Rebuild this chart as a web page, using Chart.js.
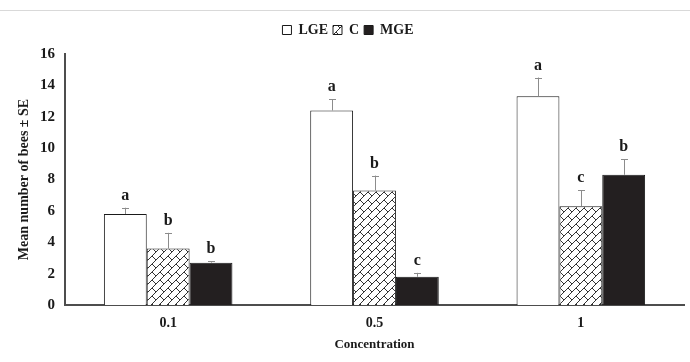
<!DOCTYPE html>
<html>
<head>
<meta charset="utf-8">
<script src="https://cdn.jsdelivr.net/npm/chart.js@4.4.1/dist/chart.umd.min.js"></script>
<style>
  html, body { margin: 0; padding: 0; background: #fff; }
</style>
</head>
<body>
<canvas id="chart" width="690" height="362"></canvas>
<script>
// data
const concentrations = ['0.1', '0.5', '1'];
const lgeMeans = [5.8, 12.4, 13.3];
const lgeSE = [0.4, 0.7, 1.2];
const lgeLetters = ['a', 'a', 'a'];
const cMeans = [3.6, 7.3, 6.3];
const cSE = [1.0, 0.95, 1.0];
const cLetters = ['b', 'b', 'c'];
const mgeMeans = [2.7, 1.8, 8.3];
const mgeSE = [0.1, 0.25, 1.0];
const mgeLetters = ['b', 'c', 'b'];
const yTicks = [0, 2, 4, 6, 8, 10, 12, 14, 16];

const serif = "'Liberation Serif', 'Times New Roman', serif";

// brick-ish diagonal hatch for the C series
function makeHatch() {
  const c = document.createElement('canvas');
  c.width = 8; c.height = 8;
  const g = c.getContext('2d');
  g.fillStyle = '#fff';
  g.fillRect(0, 0, 8, 8);
  g.strokeStyle = '#333';
  g.lineWidth = 1;
  g.beginPath();
  g.moveTo(0, 8); g.lineTo(8, 0);
  g.moveTo(0, 0); g.lineTo(4, 4);
  g.stroke();
  return g.createPattern(c, 'repeat');
}
const hatch = makeHatch();

const seMap = [lgeSE, cSE, mgeSE];
const letterMap = [lgeLetters, cLetters, mgeLetters];

// error bars (upper only) and significance letters
const errorBars = {
  id: 'errorBars',
  afterDatasetsDraw(chart) {
    const ctx = chart.ctx;
    const y = chart.scales.y;
    chart.data.datasets.forEach((ds, di) => {
      const meta = chart.getDatasetMeta(di);
      meta.data.forEach((bar, i) => {
        const top = y.getPixelForValue(ds.data[i] + seMap[di][i]);
        ctx.save();
        ctx.strokeStyle = '#8c8c8c';
        ctx.lineWidth = 1;
        ctx.beginPath();
        ctx.moveTo(Math.round(bar.x) + 0.5, bar.y);
        ctx.lineTo(Math.round(bar.x) + 0.5, top);
        ctx.moveTo(Math.round(bar.x) - 3, Math.round(top) + 0.5);
        ctx.lineTo(Math.round(bar.x) + 4, Math.round(top) + 0.5);
        ctx.stroke();
        ctx.fillStyle = '#1a1a1a';
        ctx.font = 'bold 16px ' + serif;
        ctx.textAlign = 'center';
        ctx.textBaseline = 'alphabetic';
        ctx.fillText(letterMap[di][i], bar.x, top - 8);
        ctx.restore();
      });
    });
  }
};

// thin grey rule across the top
const topRule = {
  id: 'topRule',
  beforeDraw(chart) {
    const ctx = chart.ctx;
    ctx.save();
    ctx.strokeStyle = '#d9d9d9';
    ctx.lineWidth = 1;
    ctx.beginPath();
    ctx.moveTo(0, 10.5);
    ctx.lineTo(chart.width, 10.5);
    ctx.stroke();
    ctx.restore();
  }
};

const legendGap = {
  id: 'legendGap',
  beforeInit(chart) {
    const fit = chart.legend.fit;
    chart.legend.fit = function () {
      fit.bind(chart.legend)();
      this.height += 7;
    };
  }
};

new Chart(document.getElementById('chart'), {
  type: 'bar',
  data: {
    labels: concentrations,
    datasets: [
      { label: 'LGE', data: lgeMeans, backgroundColor: '#ffffff', borderColor: '#1a1a1a', borderWidth: 1 },
      { label: 'C', data: cMeans, backgroundColor: hatch, borderColor: '#1a1a1a', borderWidth: 1 },
      { label: 'MGE', data: mgeMeans, backgroundColor: '#231f20', borderColor: '#1a1a1a', borderWidth: 1 }
    ]
  },
  options: {
    responsive: false,
    animation: false,
    layout: { padding: { left: 12, right: 6, top: 18, bottom: 4 } },
    datasets: {
      bar: { categoryPercentage: 0.623, barPercentage: 1.0 }
    },
    plugins: {
      legend: {
        position: 'top',
        labels: {
          boxWidth: 9,
          boxHeight: 9,
          padding: 5,
          color: '#1a1a1a',
          font: { family: serif, size: 14, weight: 'bold' }
        }
      },
      tooltip: { enabled: false }
    },
    scales: {
      x: {
        grid: { display: false, drawTicks: false },
        border: { color: '#4d4d4d', width: 2 },
        ticks: { color: '#1a1a1a', padding: 10, font: { family: serif, size: 14, weight: 'bold' } },
        title: {
          display: true,
          text: 'Concentration',
          color: '#1a1a1a',
          padding: { top: 0, bottom: 6 },
          font: { family: serif, size: 13, weight: 'bold' }
        },
        afterFit(s) { s.height = 53; }
      },
      y: {
        min: 0,
        max: 16,
        afterBuildTicks(s) { s.ticks = yTicks.map(v => ({ value: v })); },
        grid: { display: false, drawTicks: false },
        border: { color: '#4d4d4d', width: 2 },
        ticks: { color: '#1a1a1a', padding: 10, font: { family: serif, size: 15, weight: 'bold' } },
        title: {
          display: true,
          text: 'Mean number of bees ± SE',
          color: '#1a1a1a',
          padding: { top: 4, bottom: 4 },
          font: { family: serif, size: 14, weight: 'bold' }
        },
        afterFit(s) { s.width = 53; }
      }
    }
  },
  plugins: [topRule, errorBars, legendGap]
});
</script>
</body>
</html>
